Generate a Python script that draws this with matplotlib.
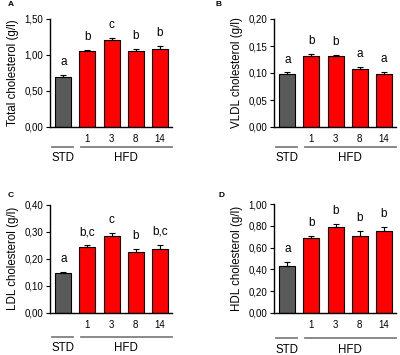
import matplotlib
matplotlib.use("Agg")
import matplotlib.pyplot as plt
import matplotlib.transforms as mtransforms

plt.rcParams['font.family'] = ['Liberation Sans', 'DejaVu Sans']

groups = ["STD", "1", "3", "8", "14"]
tick_labels = ["", "1", "3", "8", "14"]

total_vals = [0.69, 1.06, 1.21, 1.05, 1.09]
total_err = [0.03, 0.01, 0.03, 0.04, 0.04]
total_letters = ["a", "b", "c", "b", "b"]

vldl_vals = [0.099, 0.131, 0.131, 0.108, 0.099]
vldl_err = [0.002, 0.004, 0.003, 0.004, 0.003]
vldl_letters = ["a", "b", "b", "a", "a"]

ldl_vals = [0.149, 0.245, 0.285, 0.226, 0.237]
ldl_err = [0.003, 0.005, 0.012, 0.012, 0.015]
ldl_letters = ["a", "b,c", "c", "b", "b,c"]

hdl_vals = [0.435, 0.685, 0.795, 0.71, 0.755]
hdl_err = [0.035, 0.02, 0.02, 0.04, 0.035]
hdl_letters = ["a", "b", "b", "b", "b"]

W, H = 400, 355
fig = plt.figure(figsize=(W / 100, H / 100), dpi=100)


def px_axes(left, right, top, bottom):
    return fig.add_axes([left / W, (H - bottom) / H, (right - left) / W, (bottom - top) / H])


panels = [
    ("A", (50, 172, 19, 127), total_vals, total_err, total_letters,
     "Total cholesterol (g/l)", 1.5, [0, 0.5, 1.0, 1.5], (8, 5), 20, 31),
    ("B", (274, 396, 19, 127), vldl_vals, vldl_err, vldl_letters,
     "VLDL cholesterol (g/l)", 0.2, [0, 0.05, 0.10, 0.15, 0.20], (215, 5), 20, 31),
    ("C", (50, 172, 205, 312.7), ldl_vals, ldl_err, ldl_letters,
     "LDL cholesterol (g/l)", 0.4, [0, 0.1, 0.2, 0.3, 0.4], (8, 195), 24, 35),
    ("D", (274, 396, 204.3, 312.7), hdl_vals, hdl_err, hdl_letters,
     "HDL cholesterol (g/l)", 1.0, [0, 0.2, 0.4, 0.6, 0.8, 1.0], (218, 195), 25, 37),
]

colors = ["#595959", "#ff0000", "#ff0000", "#ff0000", "#ff0000"]

for label, box, vals, errs, letters, ylab, ymax, yticks, lpos, line_off, text_off in panels:
    ax = px_axes(*box)
    x = list(range(len(groups)))
    ax.bar(x, vals, width=0.66, color=colors, edgecolor="black", linewidth=0.8, zorder=2)
    ax.errorbar(x, vals, yerr=[[0] * len(errs), errs], fmt="none", ecolor="black",
                elinewidth=0.8, capsize=2.5, capthick=0.8, zorder=3)
    for xi, v, e, t in zip(x, vals, errs, letters):
        ax.annotate(t, (xi, v + e), xytext=(0, 5), textcoords="offset points",
                    ha="center", va="bottom", fontsize=8.5)
    ax.set_xlim(-0.55, 4.5)
    ax.set_ylim(0, ymax)
    ax.set_yticks(yticks)
    ax.set_yticklabels([f"{t:.2f}".replace(".", ",") for t in yticks])
    ax.set_xticks(x)
    ax.set_xticklabels(tick_labels)
    ax.tick_params(axis="x", length=0, pad=5, labelsize=7)
    ax.tick_params(axis="y", length=3, width=0.8, pad=2, labelsize=7, direction="out")
    for s in ["top", "right"]:
        ax.spines[s].set_visible(False)
    for s in ["left", "bottom"]:
        ax.spines[s].set_linewidth(1.0)
    ax.set_ylabel(ylab, fontsize=8.3, labelpad=4)

    h_px = box[3] - box[2]
    trans = mtransforms.blended_transform_factory(ax.transData, ax.transAxes)
    yl = -line_off / h_px
    yt = -text_off / h_px
    ax.plot([-0.45, 0.4], [yl, yl], color="#808080", lw=1.3, transform=trans, clip_on=False)
    ax.plot([0.75, 4.5], [yl, yl], color="#808080", lw=1.3, transform=trans, clip_on=False)
    ax.text(-0.02, yt, "STD", transform=trans, ha="center", va="center", fontsize=8.3)
    ax.text(2.6, yt, "HFD", transform=trans, ha="center", va="center", fontsize=8.3)

    fig.text(lpos[0] / W, 1 - lpos[1] / H, label, fontsize=6, fontweight="bold",
             ha="left", va="center")

fig.savefig("out.png", dpi=100)
